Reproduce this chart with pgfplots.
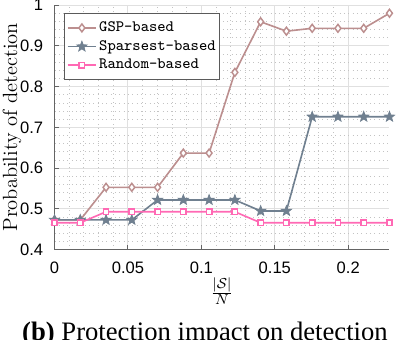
\documentclass[border=0pt]{standalone}
\usepackage{fontspec}
\usepackage{pgfplots}
\pgfplotsset{compat=1.18}
\newfontfamily\tickfont{Liberation Sans}
\newfontfamily\capfont{Liberation Serif}
\definecolor{gspc}{RGB}{188,143,143}
\definecolor{spc}{RGB}{112,128,144}
\definecolor{rndc}{RGB}{255,105,180}
\definecolor{axc}{RGB}{100,100,100}
\definecolor{majg}{RGB}{224,224,224}
\definecolor{ming}{RGB}{195,195,195}
\definecolor{legc}{RGB}{90,90,90}

\pgfdeclareplotmark{fstar}{%
  \pgfpathmoveto{\pgfpointpolar{90}{\pgfplotmarksize}}%
  \pgfpathlineto{\pgfpointpolar{126}{0.42\pgfplotmarksize}}%
  \pgfpathlineto{\pgfpointpolar{162}{\pgfplotmarksize}}%
  \pgfpathlineto{\pgfpointpolar{198}{0.42\pgfplotmarksize}}%
  \pgfpathlineto{\pgfpointpolar{234}{\pgfplotmarksize}}%
  \pgfpathlineto{\pgfpointpolar{270}{0.42\pgfplotmarksize}}%
  \pgfpathlineto{\pgfpointpolar{306}{\pgfplotmarksize}}%
  \pgfpathlineto{\pgfpointpolar{342}{0.42\pgfplotmarksize}}%
  \pgfpathlineto{\pgfpointpolar{18}{\pgfplotmarksize}}%
  \pgfpathlineto{\pgfpointpolar{54}{0.42\pgfplotmarksize}}%
  \pgfpathclose
  \pgfusepathqfillstroke
}

\pgfplotstableread{
x        gsp    sp     rnd
0.00000  0.473  0.473  0.466
0.01754  0.473  0.473  0.466
0.03509  0.553  0.473  0.493
0.05263  0.553  0.473  0.493
0.07018  0.553  0.522  0.493
0.08772  0.637  0.522  0.493
0.10526  0.637  0.522  0.493
0.12281  0.835  0.522  0.493
0.14035  0.959  0.495  0.466
0.15789  0.936  0.495  0.466
0.17544  0.943  0.726  0.466
0.19298  0.943  0.726  0.466
0.21053  0.943  0.726  0.466
0.22807  0.980  0.726  0.466
}\datatable

\begin{document}
\begin{tikzpicture}
\begin{axis}[
  scale only axis, width=186.1pt, height=135.9pt,
  xmin=0, xmax=0.22807, ymin=0.4, ymax=1,
  axis x line*=bottom, axis y line*=left,
  axis line style={axc, line width=0.5pt},
  xtick={0,0.05,0.1,0.15,0.2}, xticklabels={0,0.05,0.1,0.15,0.2},
  ytick={0.4,0.5,0.6,0.7,0.8,0.9,1}, yticklabels={0.4,0.5,0.6,0.7,0.8,0.9,1},
  minor x tick num=4, minor y tick num=4,
  grid=both,
  major grid style={draw=majg, line width=0.5pt},
  minor grid style={draw=ming, dotted, line width=0.45pt},
  major tick length=2.5pt, minor tick length=0pt,
  tick style={axc, line width=0.5pt},
  tick align=inside,
  ticklabel style={font=\tickfont\fontsize{9.2}{11}\selectfont},
  xticklabel style={anchor=north, inner sep=0pt, yshift=-6.8pt},
  yticklabel style={anchor=east, inner sep=0pt, xshift=-6.1pt},
  every axis y label/.style={at={(axis description cs:-0.1118,0.5)}, rotate=90, anchor=base, inner sep=0pt},
  every axis x label/.style={at={(axis description cs:0.5,0)}, yshift=-30.7pt, anchor=south, inner sep=0pt},
  ylabel={\fontsize{11.4}{13}\selectfont Probability of detection},
  xlabel={\fontsize{10.8}{13}\selectfont$\frac{|\mathcal{S}|}{N}$},
  legend style={at={(axis description cs:0.0285,0.9676)}, anchor=north west,
    draw=legc, line width=0.6pt, fill=white,
    font=\ttfamily\fontsize{8.8}{10.5}\selectfont, inner xsep=1.2pt, inner ysep=2.8pt,
    nodes={inner xsep=1.2pt, inner ysep=1.7pt}},
  legend image code/.code={\draw[mark repeat=2,mark phase=2,#1] plot coordinates {(0cm,0cm) (0.28cm,0cm) (0.56cm,0cm)};},
  legend cell align=left,
]
\addplot[gspc, line width=0.9pt, mark=diamond*, mark size=2.2pt, mark options={fill=white, line width=0.8pt}] table[x=x, y=gsp] {\datatable};
\addlegendentry{GSP-based}
\addplot[spc, line width=0.9pt, mark=fstar, mark size=3pt, mark options={fill=spc, line width=0.4pt}] table[x=x, y=sp] {\datatable};
\addlegendentry{Sparsest-based}
\addplot[rndc, line width=0.9pt, mark=square*, mark size=1.5pt, mark options={fill=white, line width=0.8pt}] table[x=x, y=rnd] {\datatable};
\addlegendentry{Random-based}
\end{axis}
\node[anchor=base, inner sep=0pt, font=\capfont\fontsize{14.8}{17}\selectfont] at (83.6pt,-50.3pt) {\textbf{(b)} Protection impact on detection};
\pgfresetboundingbox
\useasboundingbox (-30.28pt,-50.17pt) rectangle (189.72pt,138.72pt);
\end{tikzpicture}
\end{document}
